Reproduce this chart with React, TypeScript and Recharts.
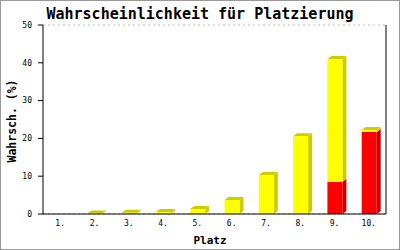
import React from 'react';
import { BarChart, Bar, XAxis, YAxis, CartesianGrid } from 'recharts';

const places = ['1.', '2.', '3.', '4.', '5.', '6.', '7.', '8.', '9.', '10.'];
const redValues = [0, 0, 0, 0, 0, 0, 0, 0, 8.5, 21.7];
const yellowValues = [0, 0.1, 0.3, 0.5, 1.3, 3.7, 10.3, 20.6, 32.5, 0.5];
const yTicks = [0, 10, 20, 30, 40, 50];

const data = places.map((p, i) => ({ place: p, red: redValues[i], yellow: yellowValues[i] }));

const DX = 4;
const DY = 3;
const MONO = 'DejaVu Sans Mono, monospace';

function make3D(front: string, dark: string, key: 'red' | 'yellow') {
  return (props: any) => {
    const { x, y, width: w, height: h, payload } = props;
    const v = payload ? payload[key] : 0;
    if (!v || !(h > 0)) return <g />;
    const drawTop = key === 'yellow' || !payload.yellow;
    const side = `${x + w},${y} ${x + w + DX},${y - DY} ${x + w + DX},${y + h - DY} ${x + w},${y + h}`;
    const top = `${x},${y} ${x + DX},${y - DY} ${x + w + DX},${y - DY} ${x + w},${y}`;
    return (
      <g>
        <polygon points={side} fill={dark} />
        {drawTop && <polygon points={top} fill={dark} />}
        <rect x={x} y={y} width={w} height={h} fill={front} />
      </g>
    );
  };
}

const RedShape = make3D('#ff0000', '#cc0000', 'red');
const YellowShape = make3D('#ffff00', '#cccc00', 'yellow');

export default function App() {
  return (
    <div
      style={{
        position: 'absolute',
        left: 0,
        top: 0,
        width: 400,
        height: 250,
        boxSizing: 'border-box',
        border: '1px solid #999',
        background: '#fff',
      }}
    >
      <div style={{ position: 'absolute', left: -1, top: -1 }}>
        <BarChart
          width={400}
          height={250}
          data={data}
          margin={{ top: 25, right: 13, bottom: 0, left: 0 }}
          barCategoryGap={0}
        >
          <CartesianGrid vertical={false} stroke="#bbb" strokeDasharray="2 3" />
          <XAxis
            dataKey="place"
            height={36}
            tickLine={false}
            tickMargin={0}
            axisLine={{ stroke: '#000' }}
            tick={{ fontSize: 8, fontFamily: MONO, fill: '#000' }}
            interval={0}
          />
          <YAxis
            yAxisId="left"
            domain={[0, 50]}
            ticks={yTicks}
            width={43}
            tickSize={5}
            tickMargin={6}
            axisLine={{ stroke: '#000' }}
            tickLine={{ stroke: '#000' }}
            tick={{ fontSize: 8, fontFamily: MONO, fill: '#000' }}
          />
          <YAxis
            yAxisId="right"
            orientation="right"
            domain={[0, 50]}
            ticks={yTicks}
            width={1}
            tick={false}
            tickLine={false}
            axisLine={{ stroke: '#000' }}
          />
          <Bar yAxisId="left" dataKey="red" stackId="a" barSize={15} shape={RedShape} isAnimationActive={false} />
          <Bar yAxisId="left" dataKey="yellow" stackId="a" barSize={15} shape={YellowShape} isAnimationActive={false} />
        </BarChart>
      </div>
      <svg
        width={400}
        height={250}
        style={{ position: 'absolute', left: -1, top: -1, pointerEvents: 'none' }}
      >
        <text x={200} y={19} textAnchor="middle" fontFamily={MONO} fontWeight="bold" fontSize={15} fill="#000">
          Wahrscheinlichkeit für Platzierung
        </text>
        <text
          x={16}
          y={121}
          textAnchor="middle"
          fontFamily={MONO}
          fontWeight="bold"
          fontSize={11.5}
          fill="#000"
          transform="rotate(-90 16 121)"
        >
          Wahrsch. (%)
        </text>
        <text x={210} y={244} textAnchor="middle" fontFamily={MONO} fontWeight="bold" fontSize={11} fill="#000">
          Platz
        </text>
      </svg>
    </div>
  );
}
